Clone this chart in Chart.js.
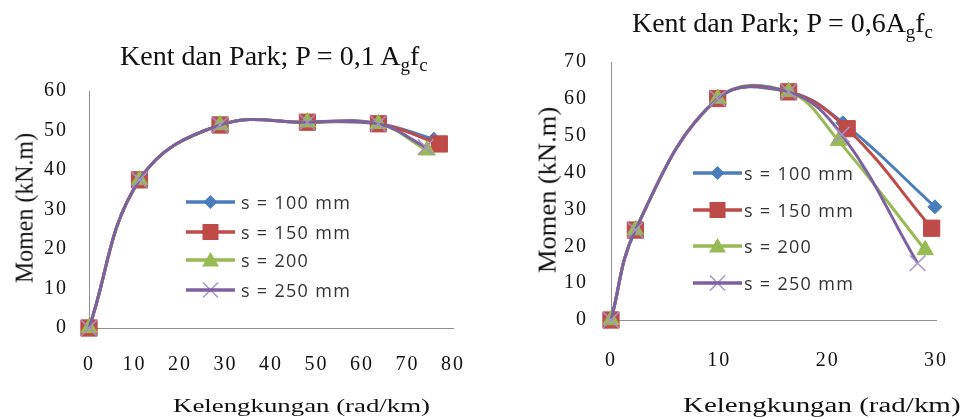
<!DOCTYPE html>
<html>
<head>
<meta charset="utf-8">
<script src="https://cdn.jsdelivr.net/npm/chart.js@4/dist/chart.umd.min.js"></script>
<style>
  html, body { margin: 0; padding: 0; background: #fff; }
  #page { position: relative; width: 967px; height: 417px; overflow: hidden; background: #fff; }
  canvas { position: absolute; top: 0; }
  .serif { font-family: "Liberation Serif", "Times New Roman", serif; color: #111; white-space: nowrap; position: absolute; line-height: 1; }
  .title sub { font-size: 0.68em; vertical-align: -0.32em; line-height: 0; }
  .legend { position: absolute; font-family: "Open Sans", "Liberation Sans", sans-serif; font-size: 18px; color: #333; letter-spacing: 1.3px; }
  .legend .row { position: absolute; left: 0; height: 24px; display: flex; align-items: center; white-space: nowrap; }
  .legend svg { flex: none; }
</style>
</head>
<body>
<div id="page">
  <canvas id="chartLow" width="480" height="417" style="left:0"></canvas>
  <canvas id="chartHigh" width="487" height="417" style="left:480px"></canvas>

  <div class="serif title" id="titleLow" style="left:120px; top:43px; font-size:26.5px;">Kent dan Park; P = 0,1 A<sub>g</sub>f<sub>c</sub></div>
  <div class="serif title" id="titleHigh" style="left:632px; top:10px; font-size:27px;">Kent dan Park; P = 0,6A<sub>g</sub>f<sub>c</sub></div>

  <div class="serif" id="yTitleLow" style="font-size:26px;">Momen (kN.m)</div>
  <div class="serif" id="yTitleHigh" style="font-size:26px;">Momen (kN.m)</div>

  <div class="serif" id="xTitleLow" style="left:173px; top:396px; font-size:19px;">Kelengkungan (rad/km)</div>
  <div class="serif" id="xTitleHigh" style="left:683px; top:395px; font-size:20.5px;">Kelengkungan (rad/km)</div>

  <div class="legend" id="legendLow" style="left:186px; top:0;"></div>
  <div class="legend" id="legendHigh" style="left:693px; top:0;"></div>
</div>

<script>
// Series names (stirrup spacing)
const seriesLabels = ['s = 100 mm', 's = 150 mm', 's = 200', 's = 250 mm'];
const seriesColors = ['#4A7EBB', '#BE4B48', '#98B954', '#7D60A0'];
const seriesMarkers = ['rectRot', 'rect', 'triangle', 'crossRot'];

// Axis ranges and tick steps
const lowXTicks = { min: 0, max: 80, step: 10 };
const lowYTicks = { min: 0, max: 60, step: 10 };
const highXTicks = { min: 0, max: 30, step: 10 };
const highYTicks = { min: 0, max: 70, step: 10 };

// P = 0,1 Ag fc : curvature (rad/km) and moment (kN.m)
const lowCurv100 = [0, 11.1, 28.8, 48.0, 63.6, 75.8];
const lowMom100  = [0, 37.5, 51.4, 52.1, 51.7, 47.8];
const lowCurv150 = [0, 11.1, 28.8, 48.0, 63.6, 77.0];
const lowMom150  = [0, 37.5, 51.4, 52.1, 51.7, 46.6];
const lowCurv200 = [0, 11.1, 28.8, 48.0, 63.6, 74.3];
const lowMom200  = [0, 37.5, 51.4, 52.1, 51.7, 45.0];
const lowCurv250 = [0, 11.1, 28.8, 48.0, 63.6, 74.0];
const lowMom250  = [0, 37.5, 51.4, 52.1, 51.7, 45.8];

// P = 0,6 Ag fc : curvature (rad/km) and moment (kN.m)
const highCurv100 = [0, 2.25, 9.85, 16.4, 21.4, 29.9];
const highMom100  = [0, 24.4, 60.1, 61.9, 53.5, 30.7];
const highCurv150 = [0, 2.25, 9.85, 16.4, 21.8, 29.6];
const highMom150  = [0, 24.4, 60.1, 61.9, 51.9, 24.9];
const highCurv200 = [0, 2.25, 9.85, 16.4, 21.0, 29.0];
const highMom200  = [0, 24.4, 60.1, 61.9, 48.6, 19.0];
const highCurv250 = [0, 2.25, 9.85, 16.4, 21.3, 28.3];
const highMom250  = [0, 24.4, 60.1, 61.9, 50.3, 15.4];

const lowSeries = [[lowCurv100, lowMom100], [lowCurv150, lowMom150], [lowCurv200, lowMom200], [lowCurv250, lowMom250]];
const highSeries = [[highCurv100, highMom100], [highCurv150, highMom150], [highCurv200, highMom200], [highCurv250, highMom250]];

const markerRadius = [7, 11.5, 9.5, 11];

function buildDatasets(series) {
  return series.map(([xs, ys], i) => ({
    label: seriesLabels[i],
    data: xs.map((x, k) => ({ x: x, y: ys[k] })),
    showLine: true,
    borderColor: seriesColors[i],
    backgroundColor: seriesColors[i],
    borderWidth: 3,
    tension: 0.4,
    pointStyle: seriesMarkers[i],
    pointRadius: markerRadius[i],
    pointBorderWidth: i === 3 ? 1.5 : 1,
    pointBorderColor: i === 3 ? '#A594C6' : seriesColors[i],
    pointBackgroundColor: seriesColors[i],
    order: 4 - i,          // later series painted on top
    clip: false
  }));
}

// Slightly spaced tick digits
const tickSpacing = {
  id: 'tickSpacing',
  beforeDraw(chart) { chart.ctx.letterSpacing = '2px'; },
  afterDraw(chart) { chart.ctx.letterSpacing = '0px'; }
};

function axis(range, extra) {
  return Object.assign({
    type: 'linear',
    min: range.min,
    max: range.max,
    ticks: {
      stepSize: range.step,
      color: '#111',
      font: { family: 'Liberation Serif', size: 20 }
    },
    grid: { display: false },
    border: { display: true, color: '#8f8f8f', width: 1 }
  }, extra);
}

function makeChart(id, series, xr, yr, plot) {
  const xAxis = axis(xr, { afterFit(s) { s.height = 50; } });
  xAxis.ticks.padding = plot.xPad;
  const yAxis = axis(yr, { afterFit(s) { s.width = plot.left; } });
  yAxis.ticks.padding = plot.yPad;
  return new Chart(document.getElementById(id), {
    type: 'scatter',
    data: { datasets: buildDatasets(series) },
    options: {
      responsive: false,
      animation: false,
      devicePixelRatio: 1,
      layout: { padding: { left: 0, top: plot.top, right: plot.right, bottom: plot.bottom } },
      plugins: { legend: { display: false }, title: { display: false }, tooltip: { enabled: false } },
      events: [],
      scales: { x: xAxis, y: yAxis }
    },
    plugins: [tickSpacing]
  });
}

makeChart('chartLow', lowSeries, lowXTicks, lowYTicks, { left: 89, top: 91, right: 23, bottom: 39, xPad: 17, yPad: 13 });
makeChart('chartHigh', highSeries, highXTicks, highYTicks, { left: 131, top: 62, right: 14, bottom: 47, xPad: 21, yPad: 15 });

// Stretch a text block horizontally to a given width
function fitText(id, width) {
  const el = document.getElementById(id);
  const k = width / el.offsetWidth;
  el.style.transformOrigin = '0 0';
  el.style.transform = `scaleX(${k})`;
}
// Rotated axis title centred on (cx, cy) with a given length
function fitVertical(id, length, cx, cy) {
  const el = document.getElementById(id);
  const w = el.offsetWidth, h = el.offsetHeight;
  const k = length / w;
  el.style.left = (cx - w / 2) + 'px';
  el.style.top = (cy - h / 2) + 'px';
  el.style.transform = `rotate(-90deg) scaleX(${k})`;
}
fitText('titleLow', 308);
fitText('titleHigh', 301);
fitText('xTitleLow', 257);
fitText('xTitleHigh', 277);
fitVertical('yTitleLow', 150, 24, 208);
fitVertical('yTitleHigh', 166, 547, 190);

// Legend rows: line sample with marker, then label
function markerSvg(i, w) {
  const c = seriesColors[i];
  const cx = w / 2, cy = 12;
  let m = '';
  if (i === 0) m = `<polygon points="${cx - 7},${cy} ${cx},${cy - 7} ${cx + 7},${cy} ${cx},${cy + 7}" fill="${c}"/>`;
  if (i === 1) m = `<rect x="${cx - 8}" y="${cy - 8}" width="16" height="16" fill="${c}"/>`;
  if (i === 2) m = `<polygon points="${cx},${cy - 8} ${cx + 8.5},${cy + 6.5} ${cx - 8.5},${cy + 6.5}" fill="${c}"/>`;
  if (i === 3) m = `<path d="M${cx - 7.5} ${cy - 7.5} L${cx + 7.5} ${cy + 7.5} M${cx + 7.5} ${cy - 7.5} L${cx - 7.5} ${cy + 7.5}" stroke="#A594C6" stroke-width="1.5"/>`;
  const line = `<line x1="0" y1="${cy}" x2="${w}" y2="${cy}" stroke="${c}" stroke-width="3.5"/>`;
  return `<svg width="${w}" height="24" viewBox="0 0 ${w} 24">${i === 3 ? m + line : line + m}</svg>`;
}

function buildLegend(id, rowsY, lineW, gap) {
  const box = document.getElementById(id);
  seriesLabels.forEach((label, i) => {
    const row = document.createElement('div');
    row.className = 'row';
    row.style.top = (rowsY[i] - 12) + 'px';
    row.innerHTML = markerSvg(i, lineW) + `<span style="margin-left:${gap}px">${label}</span>`;
    box.appendChild(row);
  });
}
buildLegend('legendLow', [202, 232, 260, 290], 49, 6);
buildLegend('legendHigh', [173, 210, 246, 283], 49, 2);
</script>
</body>
</html>
